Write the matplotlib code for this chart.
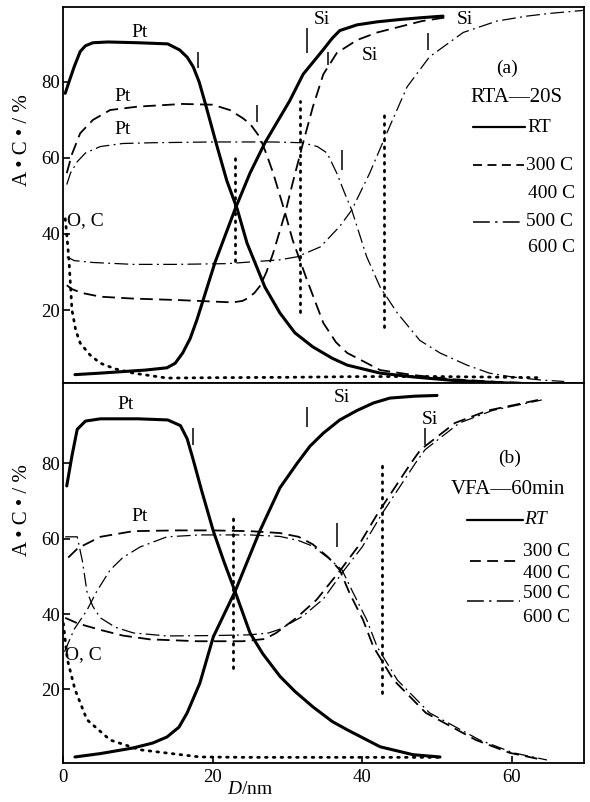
import matplotlib
matplotlib.use("Agg")
import matplotlib.pyplot as plt
from matplotlib.lines import Line2D

plt.rcParams['font.family'] = ['Liberation Serif', 'DejaVu Serif']
plt.rcParams['mathtext.fontset'] = 'custom'
plt.rcParams['mathtext.it'] = 'Liberation Serif:italic'
plt.rcParams['mathtext.rm'] = 'Liberation Serif'

# ---------------- data: panel (a) RTA-20s ----------------
a_rt_pt_x = [0.3, 0.8, 1.5, 2.3, 3.0, 4.0, 6, 10, 14, 15.6, 16.6, 17.4, 18.2, 19.0, 20.6, 21.9, 23.3, 24.6, 27.0, 29.0, 31.0, 33.4, 36, 38, 42.4, 46.8, 52, 58, 64]
a_rt_pt_y = [77, 80, 84, 88, 89.5, 90.3, 90.5, 90.3, 90, 88.4, 86.5, 84, 80, 74.5, 63, 54, 46.5, 37.6, 26, 19.2, 14, 10.3, 7.3, 5.5, 3.4, 2.4, 1.5, 0.9, 0.5]
a_rt_si_x = [1.6, 5, 8, 11, 13.9, 15.0, 16.0, 17.0, 17.9, 20.3, 23.0, 25, 27, 29.4, 30.3, 32.1, 34.8, 36, 37, 39.3, 42, 45, 48, 50.8]
a_rt_si_y = [3, 3.4, 3.8, 4.2, 4.8, 6.0, 8.7, 12.5, 17.4, 32.4, 46.5, 56, 64, 72, 75, 82, 88.5, 91.5, 93.5, 95, 95.8, 96.4, 96.9, 97.3]
a_300_pt_x = [0.5, 1.2, 2.3, 4, 6.3, 10, 16, 20, 22.3, 24, 25, 26.3, 27.2, 28.1, 29.7, 30.7, 32.6, 34.8, 36.5, 38, 42.4, 46.8, 52, 58, 63]
a_300_pt_y = [56, 61, 66.5, 70, 72.6, 73.5, 74.2, 74, 72.6, 70.5, 69, 65.5, 61, 56, 45.5, 38.4, 28, 16.6, 11.5, 8.7, 4.2, 2.9, 1.8, 1.1, 0.7]
a_300_si_x = [0.5, 1.2, 2.5, 5, 9.4, 15.6, 22.7, 24.0, 24.6, 25.6, 26.4, 27.2, 28.1, 29.7, 30.7, 32.1, 33.4, 34.8, 36.6, 39.3, 42, 45, 48, 51.3]
a_300_si_y = [26.5, 25.5, 24.5, 23.5, 23, 22.6, 22, 22.4, 23, 24.5, 26.5, 30, 35, 45.5, 53.4, 64, 73.4, 82, 87.6, 91, 93, 94.5, 96, 97]
a_500_pt_x = [0.5, 1.0, 1.9, 3, 5, 8, 12, 20, 28, 32, 34, 35.3, 36.6, 37.6, 38.6, 40.6, 42.4, 44.7, 47.7, 50.4, 54, 57, 60, 63.8, 67]
a_500_pt_y = [53, 56, 59, 61.3, 63, 63.8, 64, 64.2, 64.2, 64, 63, 61.3, 56, 51, 46.3, 34, 26, 19.2, 12, 8.7, 5.5, 3.4, 2.4, 1.6, 1.2]
a_500_si_x = [0.5, 1.5, 4, 9.4, 15, 22, 29, 31.3, 34.4, 37, 38.6, 41, 43.3, 46, 49, 53.5, 58, 62, 65, 69.5]
a_500_si_y = [34, 33, 32.5, 32, 32, 32.2, 33.2, 34, 36.6, 42, 46.3, 56, 66.6, 78.7, 86.6, 93, 96, 97.3, 98, 98.8]
a_oc_x = [0.3, 0.5, 0.8, 1.2, 1.7, 2.3, 3.6, 5, 7, 9.4, 13.9, 20, 30, 40, 50, 60, 63.8]
a_oc_y = [44, 40, 33, 20, 14.7, 11.3, 8.2, 6, 4.5, 3.4, 2.1, 2.2, 2.3, 2.5, 2.5, 2.3, 2.2]
a_vdot_x = [23.0, 31.7, 42.9]
a_vdot_lo = [33, 19.5, 15.5]
a_vdot_hi = [61, 75, 72.6]
a_mark_x = [18.0, 32.6, 25.9, 35.4, 37.3, 48.8]
a_mark_lo = [83.7, 87.6, 69.5, 84.5, 56.8, 88.4]
a_mark_hi = [87.9, 94.2, 74.0, 87.9, 62.0, 92.9]

# ---------------- data: panel (b) VFA-60min ----------------
b_rt_pt_x = [0.5, 1.2, 1.9, 3, 5, 10, 14, 15.7, 16.6, 17.4, 18.5, 20.1, 21.5, 23, 25, 26.7, 29, 31, 33.4, 36, 38, 42.4, 46.8, 50.4]
b_rt_pt_y = [74, 82, 89, 91.2, 91.8, 91.8, 91.5, 90, 86.5, 81, 73, 62, 54, 46, 35, 29.5, 23.5, 19.5, 15.4, 11.5, 9.3, 4.8, 2.7, 2.1]
b_rt_si_x = [1.6, 5, 9.4, 12, 13.9, 15.5, 16.6, 18.3, 20.1, 23, 26.3, 29, 31.3, 33, 34.8, 37, 39.3, 41.5, 43.7, 47, 50]
b_rt_si_y = [2.1, 3, 4.5, 5.8, 7.4, 10, 13.8, 21.7, 34, 46, 62, 73.5, 80, 84.5, 88, 91.5, 94, 96, 97.3, 97.8, 98]
b_300_pt_x = [0.7, 2, 5, 9.4, 15, 20, 25, 29, 31.5, 33.4, 35.5, 37, 38.3, 40.1, 41.5, 44.2, 48.5, 55.2, 59.7, 64.2]
b_300_pt_y = [55, 57.5, 60.5, 62, 62.2, 62.2, 62, 61.5, 60.5, 58.5, 55, 51.7, 45.6, 38.5, 31.3, 22.5, 13.8, 6.6, 3.2, 1.3]
b_500_pt_x = [0.2, 1.5, 3.2, 4.5, 6.3, 8, 10.3, 13.9, 18.3, 25, 29, 31.5, 33.4, 35.5, 37.3, 38.8, 40.6, 42, 44.7, 49, 55.7, 60.2, 64.7]
b_500_pt_y = [30, 36, 41, 46, 51.7, 55, 57.8, 60.5, 61, 61, 60.6, 59.5, 58, 54.8, 51.7, 45.6, 38.5, 31.3, 22.5, 13.8, 6.6, 3.2, 1.3]
b_300_si_x = [0.3, 2, 5, 8, 11.6, 18, 24, 27, 28.5, 31.2, 33.9, 37.1, 39.4, 42.1, 44.4, 46.5, 47.8, 52.4, 56.8, 63.5]
b_300_si_y = [39, 37.5, 35.8, 34.3, 33.3, 32.8, 32.8, 33.4, 35, 39, 43.8, 51.7, 57.8, 66.8, 73.7, 80, 83.6, 90.7, 94, 96.8]
b_500_si_x = [0.3, 1.9, 2.6, 3.2, 4, 5, 7, 9.4, 13.9, 20, 25, 27.5, 29, 32.1, 34.8, 37.6, 40, 42.7, 45, 47.1, 48.4, 53, 57.4, 64]
b_500_si_y = [60.5, 60.5, 54, 46, 42, 39, 36.5, 35, 34.2, 34.3, 34.5, 35, 36, 39.5, 44, 51.7, 57.8, 66.8, 73.7, 80, 83.6, 90.7, 94, 96.8]
b_oc_x = [0.05, 0.3, 0.6, 1.6, 3.2, 6.3, 10.3, 18.3, 25, 30, 40, 50.8]
b_oc_y = [37.5, 33, 27.8, 20, 12, 6.6, 4, 2.1, 2, 2, 2, 2]
b_vdot_x = [22.7, 42.6]
b_vdot_lo = [25.7, 19]
b_vdot_hi = [65.8, 81]
b_mark_x = [17.4, 32.6, 36.6, 48.4]
b_mark_lo = [84.9, 89.7, 57.8, 84.9]
b_mark_hi = [89.4, 95.0, 64.2, 89.4]

x_ticks = [0, 20, 40, 60]
y_ticks = [20, 40, 60, 80]

# ---------------- styles ----------------
W, H = 590, 802
fig = plt.figure(figsize=(W / 100, H / 100), dpi=100)
L, R = 63, 584
axa = fig.add_axes([L / W, 1 - 383 / H, (R - L) / W, (383 - 7) / H])
axb = fig.add_axes([L / W, 1 - 763 / H, (R - L) / W, (763 - 383) / H])

rt_kw = dict(color='black', lw=2.2, solid_capstyle='round')
d300_kw = dict(color='black', lw=1.3, linestyle=(0, (7, 3.5)))
d500_kw = dict(color='black', lw=0.9, linestyle=(0, (11, 3.5, 1.5, 3.5)))
dot_kw = dict(color='black', lw=2.0, linestyle=(0, (0.6, 2.2)), dash_capstyle='round')
vdot_kw = dict(color='black', lw=2.0, linestyle=(0, (0.6, 2.2)), capstyle='round')
fs_tick = 13.5
fs_lab = 14

def draw_panel(ax, ylim):
    ax.set_xlim(0, 69.65)
    ax.set_ylim(*ylim)
    for s in ax.spines.values():
        s.set_linewidth(1.3)
    ax.set_yticks(y_ticks)
    ax.tick_params(axis='y', direction='in', length=5, width=1.2, labelsize=fs_tick, pad=2)
    ax.set_ylabel('A • C • / %', fontsize=15)

draw_panel(axa, (0.8, 99.7))
draw_panel(axb, (0.5, 101.3))
axa.set_xticks([])
axb.set_xticks(x_ticks)
axb.tick_params(axis='x', direction='in', length=5, width=1.2, labelsize=fs_tick, pad=4)
axa.yaxis.set_label_coords(-0.06, 0.646)
axb.yaxis.set_label_coords(-0.06, 0.666)
axb.set_xlabel(r'$\it{D}$/nm', fontsize=14)
axb.xaxis.set_label_coords(0.36, -0.047)

# panel (a)
axa.plot(a_rt_pt_x, a_rt_pt_y, **rt_kw)
axa.plot(a_rt_si_x, a_rt_si_y, **rt_kw)
axa.plot(a_300_pt_x, a_300_pt_y, **d300_kw)
axa.plot(a_300_si_x, a_300_si_y, **d300_kw)
axa.plot(a_500_pt_x, a_500_pt_y, **d500_kw)
axa.plot(a_500_si_x, a_500_si_y, **d500_kw)
axa.plot(a_oc_x, a_oc_y, **dot_kw)
axa.vlines(a_vdot_x, a_vdot_lo, a_vdot_hi, **vdot_kw)
axa.vlines(a_mark_x, a_mark_lo, a_mark_hi, color='black', lw=1.1)

# panel (b)
axb.plot(b_rt_pt_x, b_rt_pt_y, **rt_kw)
axb.plot(b_rt_si_x, b_rt_si_y, **rt_kw)
axb.plot(b_300_pt_x, b_300_pt_y, **d300_kw)
axb.plot(b_300_si_x, b_300_si_y, **d300_kw)
axb.plot(b_500_pt_x, b_500_pt_y, **d500_kw)
axb.plot(b_500_si_x, b_500_si_y, **d500_kw)
axb.plot(b_oc_x, b_oc_y, **dot_kw)
axb.vlines(b_vdot_x, b_vdot_lo, b_vdot_hi, **vdot_kw)
axb.vlines(b_mark_x, b_mark_lo, b_mark_hi, color='black', lw=1.1)

# element labels
def lab(ax, x, y, s):
    ax.text(x, y, s, ha='center', va='center', fontsize=fs_lab)

lab(axa, 10.3, 93.0, 'Pt')
lab(axa, 7.9, 76.2, 'Pt')
lab(axa, 7.9, 67.6, 'Pt')
lab(axa, 34.6, 96.3, 'Si')
lab(axa, 41.0, 87.0, 'Si')
lab(axa, 53.7, 96.3, 'Si')
axa.text(0.5, 43.5, 'O, C', ha='left', va='center', fontsize=fs_lab)

lab(axb, 8.3, 95.5, 'Pt')
lab(axb, 10.3, 66.0, 'Pt')
lab(axb, 37.3, 97.5, 'Si')
lab(axb, 49.0, 91.5, 'Si')
axb.text(0.3, 29.3, 'O, C', ha='left', va='center', fontsize=fs_lab)

# legends (placed in figure pixel space)
def ftxt(px, py, s, ha='left', **kw):
    fig.text(px / W, 1 - py / H, s, ha=ha, va='center', fontsize=kw.pop('fontsize', fs_lab), **kw)

def fline(px0, px1, py, kw):
    fig.add_artist(Line2D([px0 / W, px1 / W], [1 - py / H, 1 - py / H],
                          transform=fig.transFigure, **kw))

ftxt(507, 68, '(a)', ha='center')
ftxt(516, 98, 'RTA—20S', ha='center', fontsize=15)
fline(473, 525, 127, rt_kw | dict(lw=1.6))
ftxt(527, 127, 'RT')
fline(473, 524, 165, d300_kw | dict(linestyle=(0, (5, 3))))
ftxt(526, 165, '300 C')
ftxt(528, 193, '400 C')
fline(473, 524, 222, d500_kw | dict(lw=1.1))
ftxt(526, 222, '500 C')
ftxt(528, 248, '600 C')

ftxt(510, 458, '(b)', ha='center')
ftxt(508, 490, 'VFA—60min', ha='center', fontsize=15)
fline(467, 523, 520, rt_kw | dict(lw=1.6))
ftxt(524, 520, 'RT', style='italic')
fline(470, 520, 561, d300_kw | dict(linestyle=(0, (6, 3.5))))
ftxt(523, 552, '300 C')
ftxt(523, 573, '400 C')
fline(467, 520, 601, d500_kw | dict(lw=1.1))
ftxt(523, 593, '500 C')
ftxt(523, 617, '600 C')

fig.savefig('out.png', dpi=100)
